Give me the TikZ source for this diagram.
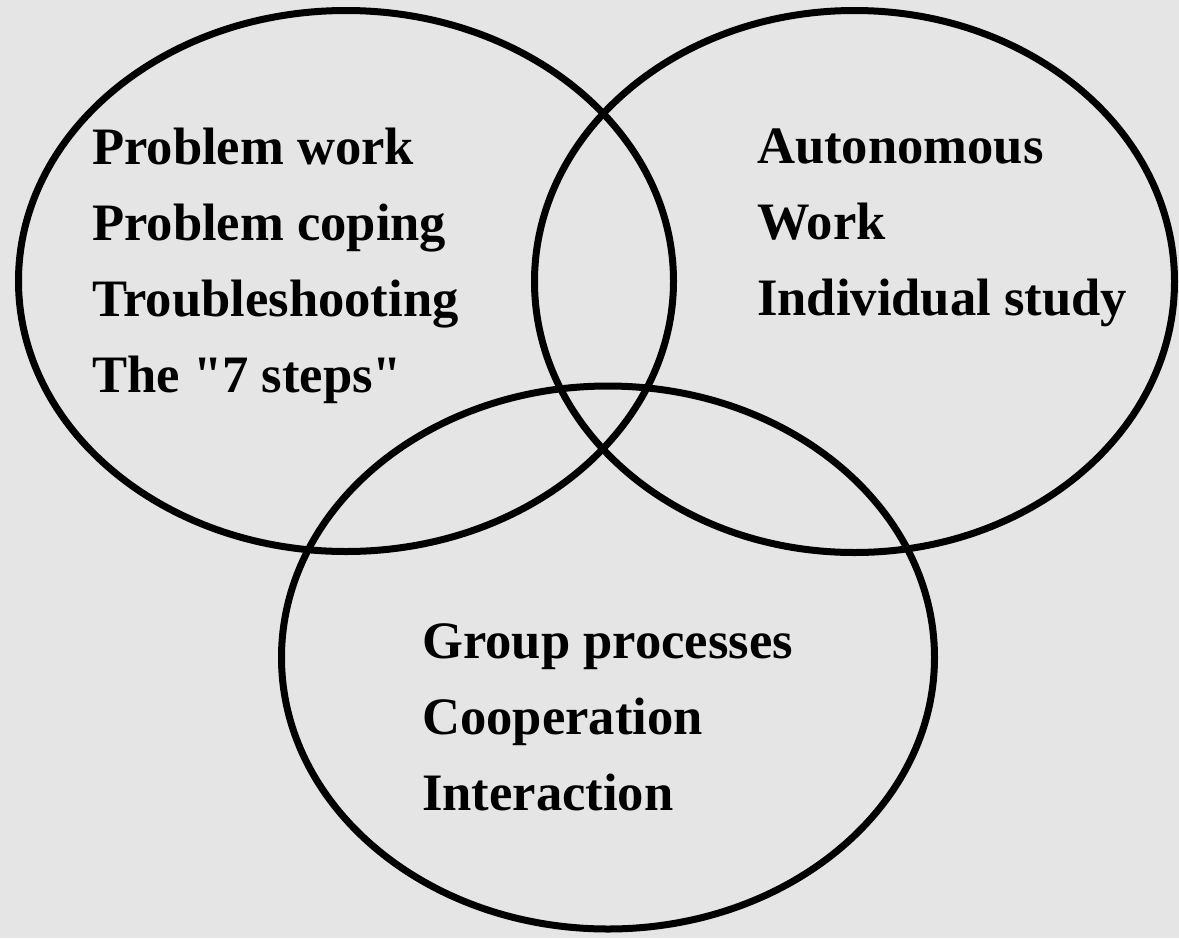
\documentclass[tikz,border=0pt]{standalone}
\usepackage{fontspec}
\setmainfont{Liberation Serif}
\begin{document}
\begin{tikzpicture}[x=1pt,y=-1pt,
  ring/.style={draw=black,line width=7pt},
  lbl/.style={anchor=base west,inner sep=0pt,font=\fontsize{52.6}{76}\selectfont\bfseries}]
\fill[gray!20] (0,0) rectangle (1179,938);
\useasboundingbox (0,0) rectangle (1179,938);
\draw[ring] (346,281) ellipse [x radius=327.5,y radius=270.5];
\draw[ring] (854.5,281.5) ellipse [x radius=320,y radius=271];
\draw[ring] (608,657.5) ellipse [x radius=326.5,y radius=271.5];
\node[lbl] (a1) at (92,164) {Problem work};
\node[lbl] (a2) at (92,240) {Problem coping};
\node[lbl] (a3) at (92,316) {Troubleshooting};
\node[lbl] (a4) at (92,392) {The \textquotedbl7 steps\textquotedbl};
\node[lbl] (b1) at (757,163) {Autonomous};
\node[lbl] (b2) at (757,239) {Work};
\node[lbl] (b3) at (757,315) {Individual study};
\node[lbl] (c1) at (422,658) {Group processes};
\node[lbl] (c2) at (422,734) {Cooperation};
\node[lbl] (c3) at (422,810) {Interaction};
\end{tikzpicture}
\end{document}
